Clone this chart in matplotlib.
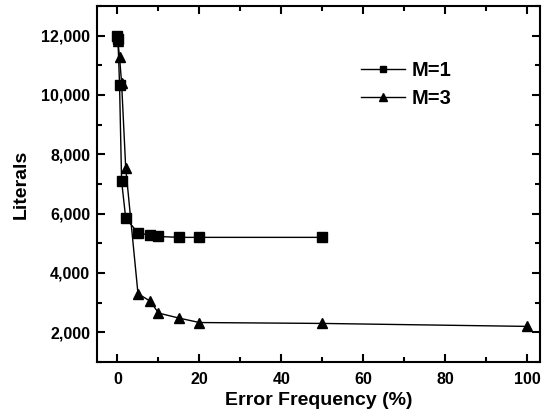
import matplotlib
matplotlib.use("Agg")
import matplotlib.pyplot as plt
from matplotlib.ticker import FuncFormatter, MultipleLocator

plt.rcParams['font.family'] = ['Liberation Sans', 'DejaVu Sans']
plt.rcParams['font.weight'] = 'bold'

x_m1 = [0, 0.1, 0.5, 1, 2, 5, 8, 10, 15, 20, 50]
y_m1 = [12000, 11900, 10350, 7100, 5850, 5350, 5270, 5230, 5200, 5200, 5200]
x_m3 = [0, 0.1, 0.5, 1, 2, 5, 8, 10, 15, 20, 50, 100]
y_m3 = [12000, 11800, 11270, 10400, 7550, 3300, 3050, 2650, 2480, 2330, 2300, 2200]
labels = ['M=1', 'M=3']

fig = plt.figure(figsize=(5.48, 4.19), dpi=100)
ax = fig.add_axes([0.177, 0.136, 0.808, 0.850])

ax.plot(x_m1, y_m1, color='black', lw=1.0, marker='s', ms=6.5, label=labels[0])
ax.plot(x_m3, y_m3, color='black', lw=1.0, marker='^', ms=7.5, label=labels[1])

ax.set_xlim(-5, 103)
ax.set_ylim(1000, 13000)
ax.xaxis.set_major_locator(MultipleLocator(20))
ax.xaxis.set_minor_locator(MultipleLocator(10))
ax.yaxis.set_major_locator(MultipleLocator(2000))
ax.yaxis.set_minor_locator(MultipleLocator(1000))
ax.yaxis.set_major_formatter(FuncFormatter(lambda v, p: f"{int(v):,}"))

ax.tick_params(which='both', direction='in', top=True, right=True, width=1.5)
ax.tick_params(which='major', length=6, labelsize=11.5)
ax.tick_params(which='minor', length=3.5)
ax.tick_params(axis='x', labeltop=False, pad=7)
ax.tick_params(axis='y', pad=5)
for lab in ax.get_xticklabels() + ax.get_yticklabels():
    lab.set_fontweight('bold')
for s in ax.spines.values():
    s.set_linewidth(1.5)

ax.set_xlabel('Error Frequency (%)', fontsize=14, fontweight='bold', labelpad=4)
ax.set_ylabel('Literals', fontsize=14, fontweight='bold', labelpad=8)

leg = ax.legend(loc='upper left', bbox_to_anchor=(0.555, 0.895), frameon=False,
                fontsize=14.5, handlelength=2.2, handletextpad=0.3, labelspacing=0.45,
                markerscale=0.75)
for t in leg.get_texts():
    t.set_fontweight('bold')

fig.savefig('out.png', dpi=100)
